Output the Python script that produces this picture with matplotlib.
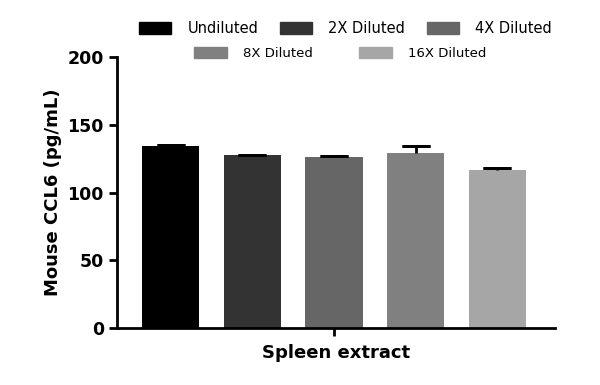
import matplotlib.pyplot as plt
from matplotlib.patches import Patch

groups = ["Undiluted", "2X Diluted", "4X Diluted", "8X Diluted", "16X Diluted"]
means = [134, 127.5, 126.5, 129.5, 116.5]
errors = [1, 0.5, 0.5, 5, 1.5]
colors = ["#000000", "#333333", "#666666", "#808080", "#a6a6a6"]
yticks = [0, 50, 100, 150, 200]

fig = plt.figure(figsize=(6, 3.85), dpi=100)
ax = fig.add_axes([0.195, 0.148, 0.73, 0.704])

x = list(range(len(groups)))
tops = [m + e for m, e in zip(means, errors)]
ax.bar(x, means, width=0.7, color=colors, zorder=2)
# upper error only: stem, then a single cap at the top
ax.errorbar(x, means, yerr=[[0] * len(errors), errors], fmt="none",
            ecolor="black", elinewidth=2, capsize=0, zorder=3)
ax.errorbar(x, tops, yerr=[0] * len(tops), fmt="none",
            ecolor="black", elinewidth=2, capsize=10, capthick=2, zorder=3)

ax.set_xlim(-0.66, 4.71)
ax.set_ylim(0, 200)
ax.set_yticks(yticks)
ax.set_xticks([2])
ax.set_xticklabels([""])
for s in ["top", "right"]:
    ax.spines[s].set_visible(False)
for s in ["left", "bottom"]:
    ax.spines[s].set_linewidth(2)
ax.tick_params(axis="both", width=2, length=6, labelsize=12.5)
for lab in ax.get_yticklabels():
    lab.set_fontweight("bold")
ax.set_ylabel("Mouse CCL6 (pg/mL)", fontsize=13, fontweight="bold")
ax.set_xlabel("Spleen extract", fontsize=13, fontweight="bold", labelpad=2)

handles = [Patch(facecolor=c, edgecolor=c) for c in colors]
fig.legend(handles[:3], groups[:3], loc="center", ncol=3,
           bbox_to_anchor=(0.576, 0.927), frameon=False, fontsize=10.5,
           handlelength=2.2, handleheight=0.9, columnspacing=1.5, handletextpad=1.1)
fig.legend(handles[3:], groups[3:], loc="center", ncol=2,
           bbox_to_anchor=(0.567, 0.86), frameon=False, fontsize=9.5,
           handlelength=2.5, handleheight=0.9, columnspacing=3.5, handletextpad=1.2)

fig.savefig("out.png", dpi=100)
